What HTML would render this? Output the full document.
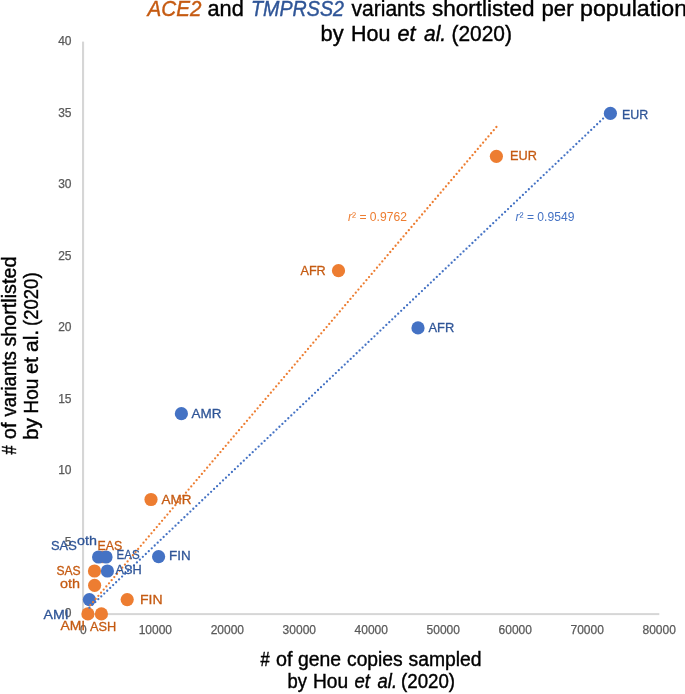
<!DOCTYPE html>
<html><head><meta charset="utf-8"><style>
html,body{margin:0;padding:0;background:#fff;width:685px;height:694px;overflow:hidden}
svg{display:block;will-change:transform;font-family:"Liberation Sans", sans-serif}
</style></head><body>
<svg width="685" height="694" viewBox="0 0 685 694">
<rect x="82" y="41.6" width="2.1" height="573.5" fill="#d6d6d6"/>
<rect x="82" y="613.1" width="577.3" height="2" fill="#d6d6d6"/>
<text x="71.5" y="617.20" font-size="12" fill="#595959" stroke="#595959" stroke-width="0.25" text-anchor="end">0</text>
<text x="71.5" y="545.70" font-size="12" fill="#595959" stroke="#595959" stroke-width="0.25" text-anchor="end">5</text>
<text x="71.5" y="474.20" font-size="12" fill="#595959" stroke="#595959" stroke-width="0.25" text-anchor="end">10</text>
<text x="71.5" y="402.70" font-size="12" fill="#595959" stroke="#595959" stroke-width="0.25" text-anchor="end">15</text>
<text x="71.5" y="331.20" font-size="12" fill="#595959" stroke="#595959" stroke-width="0.25" text-anchor="end">20</text>
<text x="71.5" y="259.70" font-size="12" fill="#595959" stroke="#595959" stroke-width="0.25" text-anchor="end">25</text>
<text x="71.5" y="188.20" font-size="12" fill="#595959" stroke="#595959" stroke-width="0.25" text-anchor="end">30</text>
<text x="71.5" y="116.70" font-size="12" fill="#595959" stroke="#595959" stroke-width="0.25" text-anchor="end">35</text>
<text x="71.5" y="45.20" font-size="12" fill="#595959" stroke="#595959" stroke-width="0.25" text-anchor="end">40</text>
<text x="83.40" y="634" font-size="12" fill="#595959" stroke="#595959" stroke-width="0.25" text-anchor="middle">0</text>
<text x="155.37" y="634" font-size="12" fill="#595959" stroke="#595959" stroke-width="0.25" text-anchor="middle">10000</text>
<text x="227.34" y="634" font-size="12" fill="#595959" stroke="#595959" stroke-width="0.25" text-anchor="middle">20000</text>
<text x="299.31" y="634" font-size="12" fill="#595959" stroke="#595959" stroke-width="0.25" text-anchor="middle">30000</text>
<text x="371.28" y="634" font-size="12" fill="#595959" stroke="#595959" stroke-width="0.25" text-anchor="middle">40000</text>
<text x="443.25" y="634" font-size="12" fill="#595959" stroke="#595959" stroke-width="0.25" text-anchor="middle">50000</text>
<text x="515.22" y="634" font-size="12" fill="#595959" stroke="#595959" stroke-width="0.25" text-anchor="middle">60000</text>
<text x="587.19" y="634" font-size="12" fill="#595959" stroke="#595959" stroke-width="0.25" text-anchor="middle">70000</text>
<text x="659.16" y="634" font-size="12" fill="#595959" stroke="#595959" stroke-width="0.25" text-anchor="middle">80000</text>
<circle cx="102.3" cy="557.00" r="6.25" fill="#ED7D31"/>
<circle cx="496.4" cy="156.30" r="6.6" fill="#ED7D31"/>
<circle cx="338.5" cy="270.70" r="6.6" fill="#ED7D31"/>
<circle cx="151.0" cy="499.50" r="6.6" fill="#ED7D31"/>
<circle cx="127.2" cy="599.60" r="6.6" fill="#ED7D31"/>
<circle cx="94.5" cy="571.00" r="6.6" fill="#ED7D31"/>
<circle cx="94.6" cy="585.30" r="6.6" fill="#ED7D31"/>
<circle cx="87.9" cy="613.90" r="6.6" fill="#ED7D31"/>
<circle cx="101.4" cy="613.90" r="6.6" fill="#ED7D31"/>
<circle cx="610.4" cy="113.40" r="6.6" fill="#4472C4"/>
<circle cx="418.0" cy="327.90" r="6.6" fill="#4472C4"/>
<circle cx="181.4" cy="413.70" r="6.6" fill="#4472C4"/>
<circle cx="158.6" cy="556.70" r="6.6" fill="#4472C4"/>
<circle cx="98.6" cy="557.00" r="6.6" fill="#4472C4"/>
<circle cx="106.0" cy="557.00" r="6.6" fill="#4472C4"/>
<circle cx="107.4" cy="571.00" r="6.6" fill="#4472C4"/>
<circle cx="89.4" cy="599.60" r="6.6" fill="#4472C4"/>
<line x1="496.4" y1="127.0" x2="87.9" y2="608.2" stroke="#ED7D31" stroke-width="2.3" stroke-linecap="round" stroke-dasharray="0 4.1"/>
<line x1="89.4" y1="607.7" x2="610.4" y2="111.6" stroke="#4472C4" stroke-width="2.3" stroke-linecap="round" stroke-dasharray="0 4.1"/>
<text stroke="#C55A11" stroke-width="0.4" x="147.50" y="16.10" font-size="21.5" fill="#C55A11" style="font-style:italic;" textLength="53.85" lengthAdjust="spacingAndGlyphs">ACE2</text>
<text stroke="#000000" stroke-width="0.4" x="207.50" y="16.10" font-size="21.5" fill="#000000" style="" textLength="36.24" lengthAdjust="spacingAndGlyphs">and</text>
<text stroke="#2F5597" stroke-width="0.4" x="251.00" y="16.10" font-size="21.5" fill="#2F5597" style="font-style:italic;" textLength="93.01" lengthAdjust="spacingAndGlyphs">TMPRSS2</text>
<text stroke="#000000" stroke-width="0.4" x="351.50" y="16.10" font-size="21.5" fill="#000000" style="" textLength="73.67" lengthAdjust="spacingAndGlyphs">variants</text>
<text stroke="#000000" stroke-width="0.4" x="432.00" y="16.10" font-size="21.5" fill="#000000" style="" textLength="102.50" lengthAdjust="spacingAndGlyphs">shortlisted</text>
<text stroke="#000000" stroke-width="0.4" x="541.50" y="16.10" font-size="21.5" fill="#000000" style="" textLength="32.06" lengthAdjust="spacingAndGlyphs">per</text>
<text stroke="#000000" stroke-width="0.4" x="580.00" y="16.10" font-size="21.5" fill="#000000" style="" textLength="107.19" lengthAdjust="spacingAndGlyphs">population</text>
<text stroke="#000000" stroke-width="0.4" x="320.50" y="41.00" font-size="21.5" fill="#000000" style="" textLength="23.13" lengthAdjust="spacingAndGlyphs">by</text>
<text stroke="#000000" stroke-width="0.4" x="351.00" y="41.00" font-size="21.5" fill="#000000" style="" textLength="39.39" lengthAdjust="spacingAndGlyphs">Hou</text>
<text stroke="#000000" stroke-width="0.4" x="397.50" y="41.00" font-size="21.5" fill="#000000" style="font-style:italic;" textLength="18.10" lengthAdjust="spacingAndGlyphs">et</text>
<text stroke="#000000" stroke-width="0.4" x="424.00" y="41.00" font-size="21.5" fill="#000000" style="font-style:italic;" textLength="22.14" lengthAdjust="spacingAndGlyphs">al.</text>
<text stroke="#000000" stroke-width="0.4" x="451.50" y="41.00" font-size="21.5" fill="#000000" style="" textLength="60.41" lengthAdjust="spacingAndGlyphs">(2020)</text>
<text stroke="#000000" stroke-width="0.4" x="260.50" y="666.30" font-size="19.5" fill="#000000" style="" textLength="9.17" lengthAdjust="spacingAndGlyphs">#</text>
<text stroke="#000000" stroke-width="0.4" x="276.00" y="666.30" font-size="19.5" fill="#000000" style="" textLength="16.45" lengthAdjust="spacingAndGlyphs">of</text>
<text stroke="#000000" stroke-width="0.4" x="298.00" y="666.30" font-size="19.5" fill="#000000" style="" textLength="43.11" lengthAdjust="spacingAndGlyphs">gene</text>
<text stroke="#000000" stroke-width="0.4" x="347.00" y="666.30" font-size="19.5" fill="#000000" style="" textLength="55.70" lengthAdjust="spacingAndGlyphs">copies</text>
<text stroke="#000000" stroke-width="0.4" x="408.50" y="666.30" font-size="19.5" fill="#000000" style="" textLength="73.05" lengthAdjust="spacingAndGlyphs">sampled</text>
<text stroke="#000000" stroke-width="0.4" x="287.50" y="688.30" font-size="19.5" fill="#000000" style="" textLength="19.46" lengthAdjust="spacingAndGlyphs">by</text>
<text stroke="#000000" stroke-width="0.4" x="313.00" y="688.30" font-size="19.5" fill="#000000" style="" textLength="35.20" lengthAdjust="spacingAndGlyphs">Hou</text>
<text stroke="#000000" stroke-width="0.4" x="354.50" y="688.30" font-size="19.5" fill="#000000" style="font-style:italic;" textLength="15.47" lengthAdjust="spacingAndGlyphs">et</text>
<text stroke="#000000" stroke-width="0.4" x="377.50" y="688.30" font-size="19.5" fill="#000000" style="font-style:italic;" textLength="19.52" lengthAdjust="spacingAndGlyphs">al.</text>
<text stroke="#000000" stroke-width="0.4" x="401.00" y="688.30" font-size="19.5" fill="#000000" style="" textLength="54.09" lengthAdjust="spacingAndGlyphs">(2020)</text>
<text stroke="#000000" stroke-width="0.4" transform="translate(15.80,0) rotate(-90)" x="-454.50" y="0" font-size="19.5" fill="#000000" style="" textLength="9.02" lengthAdjust="spacingAndGlyphs">#</text>
<text stroke="#000000" stroke-width="0.4" transform="translate(15.80,0) rotate(-90)" x="-439.00" y="0" font-size="19.5" fill="#000000" style="" textLength="16.34" lengthAdjust="spacingAndGlyphs">of</text>
<text stroke="#000000" stroke-width="0.4" transform="translate(15.80,0) rotate(-90)" x="-416.50" y="0" font-size="19.5" fill="#000000" style="" textLength="65.25" lengthAdjust="spacingAndGlyphs">variants</text>
<text stroke="#000000" stroke-width="0.4" transform="translate(15.80,0) rotate(-90)" x="-346.50" y="0" font-size="19.5" fill="#000000" style="" textLength="89.87" lengthAdjust="spacingAndGlyphs">shortlisted</text>
<text stroke="#000000" stroke-width="0.4" transform="translate(38.00,0) rotate(-90)" x="-440.00" y="0" font-size="19.5" fill="#000000" style="" textLength="22.08" lengthAdjust="spacingAndGlyphs">by</text>
<text stroke="#000000" stroke-width="0.4" transform="translate(38.00,0) rotate(-90)" x="-413.50" y="0" font-size="19.5" fill="#000000" style="" textLength="34.70" lengthAdjust="spacingAndGlyphs">Hou</text>
<text stroke="#000000" stroke-width="0.4" transform="translate(38.00,0) rotate(-90)" x="-374.00" y="0" font-size="19.5" fill="#000000" style="" textLength="16.80" lengthAdjust="spacingAndGlyphs">et</text>
<text stroke="#000000" stroke-width="0.4" transform="translate(38.00,0) rotate(-90)" x="-352.00" y="0" font-size="19.5" fill="#000000" style="" textLength="22.13" lengthAdjust="spacingAndGlyphs">al.</text>
<text stroke="#000000" stroke-width="0.4" transform="translate(38.00,0) rotate(-90)" x="-326.00" y="0" font-size="19.5" fill="#000000" style="" textLength="53.56" lengthAdjust="spacingAndGlyphs">(2020)</text>
<text stroke="#C55A11" stroke-width="0.3" x="510.00" y="159.90" font-size="13.3" fill="#C55A11" style="" textLength="26.84" lengthAdjust="spacingAndGlyphs">EUR</text>
<text stroke="#C55A11" stroke-width="0.3" x="300.50" y="274.80" font-size="13.3" fill="#C55A11" style="" textLength="25.24" lengthAdjust="spacingAndGlyphs">AFR</text>
<text stroke="#C55A11" stroke-width="0.3" x="161.50" y="503.50" font-size="13.3" fill="#C55A11" style="" textLength="29.95" lengthAdjust="spacingAndGlyphs">AMR</text>
<text stroke="#C55A11" stroke-width="0.3" x="140.00" y="603.90" font-size="13.3" fill="#C55A11" style="" textLength="22.62" lengthAdjust="spacingAndGlyphs">FIN</text>
<text stroke="#C55A11" stroke-width="0.3" x="56.50" y="575.00" font-size="13.3" fill="#C55A11" style="" textLength="24.18" lengthAdjust="spacingAndGlyphs">SAS</text>
<text stroke="#C55A11" stroke-width="0.3" x="60.00" y="588.10" font-size="13.3" fill="#C55A11" style="" textLength="20.04" lengthAdjust="spacingAndGlyphs">oth</text>
<text stroke="#C55A11" stroke-width="0.3" x="97.50" y="550.00" font-size="13.3" fill="#C55A11" style="" textLength="24.72" lengthAdjust="spacingAndGlyphs">EAS</text>
<text stroke="#C55A11" stroke-width="0.3" x="60.50" y="630.10" font-size="13.3" fill="#C55A11" style="" textLength="24.69" lengthAdjust="spacingAndGlyphs">AMI</text>
<text stroke="#C55A11" stroke-width="0.3" x="90.00" y="630.90" font-size="13.3" fill="#C55A11" style="" textLength="26.27" lengthAdjust="spacingAndGlyphs">ASH</text>
<text stroke="#2F5597" stroke-width="0.3" x="622.00" y="118.60" font-size="13.3" fill="#2F5597" style="" textLength="26.28" lengthAdjust="spacingAndGlyphs">EUR</text>
<text stroke="#2F5597" stroke-width="0.3" x="428.50" y="331.70" font-size="13.3" fill="#2F5597" style="" textLength="25.75" lengthAdjust="spacingAndGlyphs">AFR</text>
<text stroke="#2F5597" stroke-width="0.3" x="191.50" y="417.70" font-size="13.3" fill="#2F5597" style="" textLength="29.95" lengthAdjust="spacingAndGlyphs">AMR</text>
<text stroke="#2F5597" stroke-width="0.3" x="169.00" y="559.70" font-size="13.3" fill="#2F5597" style="" textLength="21.60" lengthAdjust="spacingAndGlyphs">FIN</text>
<text stroke="#2F5597" stroke-width="0.3" x="116.50" y="558.70" font-size="13.3" fill="#2F5597" style="" textLength="23.14" lengthAdjust="spacingAndGlyphs">EAS</text>
<text stroke="#2F5597" stroke-width="0.3" x="115.50" y="574.00" font-size="13.3" fill="#2F5597" style="" textLength="26.27" lengthAdjust="spacingAndGlyphs">ASH</text>
<text stroke="#2F5597" stroke-width="0.3" x="51.00" y="549.70" font-size="13.3" fill="#2F5597" style="" textLength="25.75" lengthAdjust="spacingAndGlyphs">SAS</text>
<text stroke="#2F5597" stroke-width="0.3" x="77.00" y="545.30" font-size="13.3" fill="#2F5597" style="" textLength="19.95" lengthAdjust="spacingAndGlyphs">oth</text>
<text stroke="#2F5597" stroke-width="0.3" x="43.50" y="618.50" font-size="13.3" fill="#2F5597" style="" textLength="25.22" lengthAdjust="spacingAndGlyphs">AMI</text>
<text x="348.00" y="221.30" font-size="12.5" fill="#ED7D31" style="" textLength="58.91" lengthAdjust="spacingAndGlyphs"><tspan font-style="italic">r</tspan>² = 0.9762</text>
<text x="515.50" y="221.30" font-size="12.5" fill="#4472C4" style="" textLength="58.88" lengthAdjust="spacingAndGlyphs"><tspan font-style="italic">r</tspan>² = 0.9549</text>
</svg>
</body></html>
